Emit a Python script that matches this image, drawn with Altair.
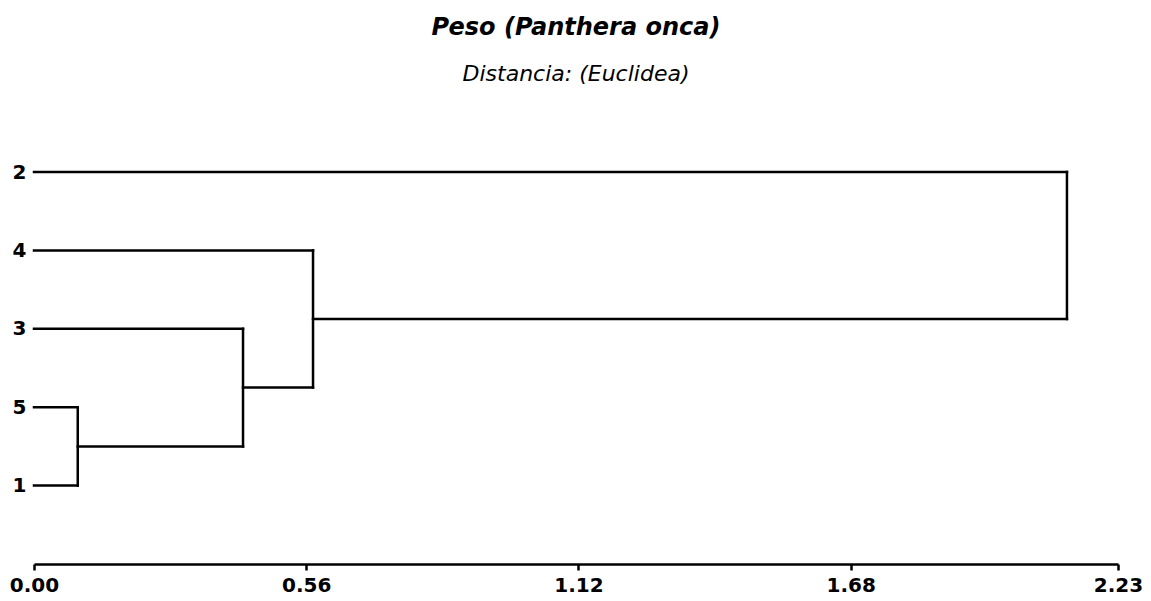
import altair as alt
import pandas as pd

# Leaves, top to bottom, and the merge heights (Euclidean distance)
leaf_order = ["2", "4", "3", "5", "1"]
merge_a = ["5", "3", "4", "2"]
merge_b = ["1", "c1", "c2", "c3"]
merge_height = [0.09, 0.43, 0.574, 2.125]
merge_name = ["c1", "c2", "c3", "c4"]
x_ticks = [0.0, 0.56, 1.12, 1.68, 2.23]

# Build dendrogram segments from the tree
ypos = {name: len(leaf_order) - 1 - i for i, name in enumerate(leaf_order)}
xpos = {name: 0.0 for name in leaf_order}
segs = []
for a, b, h, n in zip(merge_a, merge_b, merge_height, merge_name):
    segs.append({"x": xpos[a], "x2": h, "y": ypos[a], "y2": ypos[a]})
    segs.append({"x": xpos[b], "x2": h, "y": ypos[b], "y2": ypos[b]})
    segs.append({"x": h, "x2": h, "y": ypos[a], "y2": ypos[b]})
    ypos[n] = (ypos[a] + ypos[b]) / 2
    xpos[n] = h
df = pd.DataFrame(segs)

label_expr = " : ".join(
    f"datum.value == {ypos[n]} ? '{n}'" for n in leaf_order
) + " : ''"

FONT = "DejaVu Sans"

chart = (
    alt.Chart(df)
    .mark_rule(color="black", strokeWidth=2.5, strokeCap="square")
    .encode(
        x=alt.X(
            "x:Q",
            scale=alt.Scale(domain=[0, 2.23], nice=False, zero=False),
            axis=alt.Axis(
                values=x_ticks,
                format=".2f",
                title=None,
                grid=False,
                domainColor="black",
                domainWidth=2.5,
                tickColor="black",
                tickWidth=2.5,
                tickSize=6,
                labelFont=FONT,
                labelFontSize=20,
                labelFontWeight="bold",
                labelColor="black",
                labelPadding=5,
                labelFlush=False,
            ),
        ),
        x2="x2:Q",
        y=alt.Y(
            "y:Q",
            scale=alt.Scale(domain=[-1, 4], nice=False, zero=False),
            axis=alt.Axis(
                values=[ypos[n] for n in leaf_order],
                labelExpr=label_expr,
                title=None,
                grid=False,
                domain=False,
                ticks=False,
                labelFont=FONT,
                labelFontSize=20,
                labelFontWeight="bold",
                labelColor="black",
                labelPadding=8,
            ),
        ),
        y2="y2:Q",
    )
    .properties(
        width=1084,
        height=392,
        background="white",
        autosize=alt.AutoSizeParams(type="none"),
        padding={"left": 26, "top": 164, "right": 25, "bottom": 36},
        title=alt.TitleParams(
            text="Peso (Panthera onca)",
            subtitle="Distancia: (Euclidea)",
            font=FONT,
            fontSize=24,
            fontWeight="bold",
            fontStyle="italic",
            color="black",
            subtitleFont=FONT,
            subtitleFontSize=22,
            subtitleFontStyle="italic",
            subtitleFontWeight="normal",
            subtitleColor="black",
            subtitlePadding=24,
            anchor="middle",
            offset=77,
        ),
    )
    .configure_view(strokeOpacity=0, strokeWidth=0)
)

chart.save("out.html", embed_options={"renderer": "svg", "actions": False})
